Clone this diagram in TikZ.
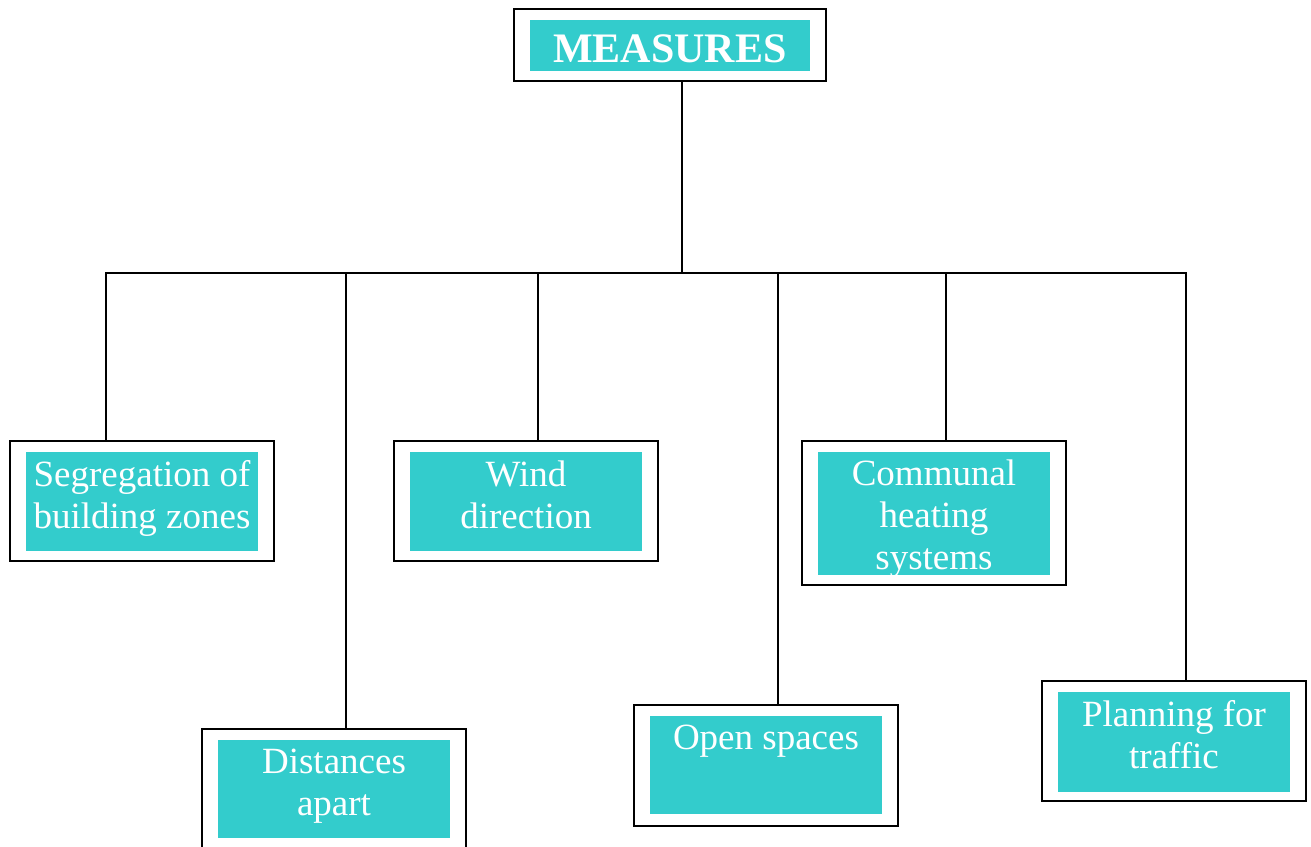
\documentclass[tikz,border=0pt]{standalone}
\usepackage{fontspec}
\setmainfont{Liberation Serif}
\usetikzlibrary{calc}
\definecolor{tealfill}{HTML}{33CCCC}
\begin{document}
\begin{tikzpicture}[x=1pt,y=-1pt,
  outerbox/.style={draw=black, line width=1.8pt, fill=white, inner sep=0pt, minimum width=264pt, minimum height=120pt},
  innerbox/.style={fill=tealfill, draw=none, inner sep=0pt, minimum width=232pt, minimum height=99pt},
  lbl/.style={text=white, align=center, inner sep=0pt, anchor=base, font=\fontsize{37}{42}\selectfont},
  conn/.style={draw=black, line width=1.8pt}]
\clip (0,0) rectangle (1311,846);
\fill[white] (0,0) rectangle (1311,846);

% top node
\node[outerbox, minimum width=312pt, minimum height=72pt] (top) at (670,45) {};
\node[innerbox, minimum width=280pt, minimum height=51pt] (topi) at (670,45.5) {};
\node[text=white, inner sep=0pt, anchor=base, font=\fontsize{42}{46}\selectfont\bfseries] (topt) at (670,62) {MEASURES};

% children (base anchor = baseline of last line)
\node[outerbox] (seg) at (142,501) {};
\node[innerbox] (segi) at (142,501.5) {};
\node[lbl] (segt) at ($(seg.north)+(0,88)$) {Segregation of\\building zones};

\node[outerbox] (wind) at (526,501) {};
\node[innerbox] (windi) at (526,501.5) {};
\node[lbl] (windt) at ($(wind.north)+(0,88)$) {Wind\\direction};

\node[outerbox, minimum height=144pt] (comm) at (934,513) {};
\node[innerbox, minimum height=123pt] (commi) at (934,513.5) {};
\begin{scope}
\clip (commi.south west) rectangle (commi.north east);
\node[lbl] (commt) at ($(comm.north)+(0,129)$) {Communal\\heating\\systems};
\end{scope}

\node[outerbox] (dist) at (334,789) {};
\node[innerbox, minimum height=98pt] (disti) at (334,789) {};
\node[lbl] (distt) at ($(dist.north)+(0,87)$) {Distances\\apart};

\node[outerbox, minimum height=121pt] (open) at (766,765.5) {};
\node[innerbox, minimum height=98pt] (openi) at (766,765) {};
\node[lbl] (opent) at ($(open.north)+(0,45)$) {Open spaces};

\node[outerbox] (plan) at (1174,741) {};
\node[innerbox, minimum height=100pt] (plani) at (1174,742) {};
\node[lbl] (plant) at ($(plan.north)+(0,88)$) {Planning for\\traffic};

% connectors
\coordinate (trunk) at (682,273);
\coordinate (b1) at (106,273);
\coordinate (b2) at (346,273);
\coordinate (b3) at (538,273);
\coordinate (b4) at (778,273);
\coordinate (b5) at (946,273);
\coordinate (b6) at (1186,273);
\draw[conn] (trunk |- top.south) -- (trunk);
\draw[conn, line cap=rect] (b1) -- (b6);
\draw[conn] (b1) -- (b1 |- seg.north);
\draw[conn] (b2) -- (b2 |- dist.north);
\draw[conn] (b3) -- (b3 |- wind.north);
\draw[conn] (b4) -- (b4 |- open.north);
\draw[conn] (b5) -- (b5 |- comm.north);
\draw[conn] (b6) -- (b6 |- plan.north);
\end{tikzpicture}
\end{document}
